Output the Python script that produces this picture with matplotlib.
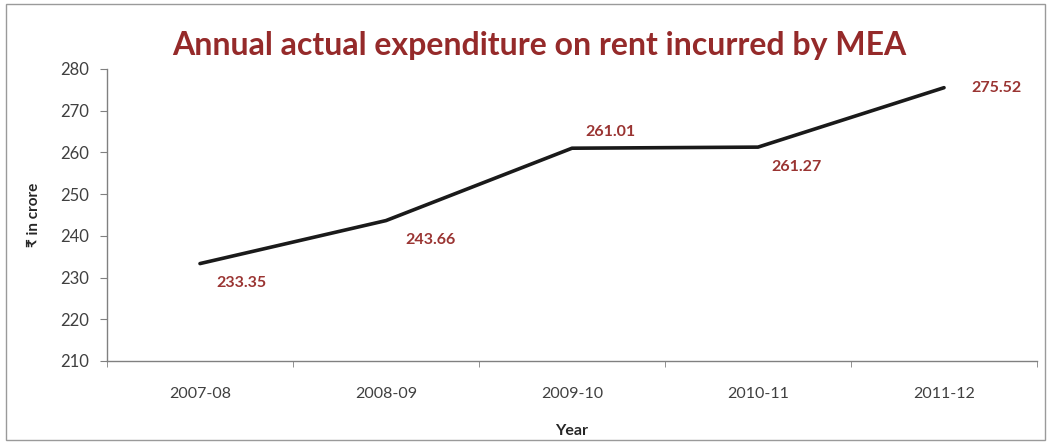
import matplotlib
matplotlib.use("Agg")
import matplotlib.pyplot as plt
from matplotlib.patches import Rectangle

years = ["2007-08", "2008-09", "2009-10", "2010-11", "2011-12"]
values = [233.35, 243.66, 261.01, 261.27, 275.52]
yticks = [210, 220, 230, 240, 250, 260, 270, 280]
# label offsets (points): relative to the point
offsets = [(30, -14), (32, -14), (28, 12), (28, -14), (38, 0)]

fam = ["Lato", "DejaVu Sans"]
plt.rcParams["font.family"] = fam

fig = plt.figure(figsize=(10.51, 4.44), dpi=100)
fig.patches.append(Rectangle((0.006, 0.008), 0.988, 0.984, transform=fig.transFigure,
                             fill=False, edgecolor="#9a9a9a", linewidth=1.0))
ax = fig.add_axes([0.1018, 0.187, 0.8849, 0.6576])

x = list(range(len(years)))
ax.plot(x, values, color="#1a1a1a", linewidth=2.6, solid_capstyle="round")
for xi, v, off in zip(x, values, offsets):
    ax.annotate(f"{v:.2f}", (xi, v), xytext=off, textcoords="offset points",
                ha="center", va="center", color="#9A3432", fontsize=11.5,
                fontweight="bold")

ax.set_xlim(-0.5, len(years) - 0.5)
ax.set_ylim(210, 280)
ax.set_yticks(yticks)
ax.set_xticks(x)
ax.set_xticklabels(years)
ax.set_xticks([i - 0.5 for i in range(len(years) + 1)], minor=True)
ax.tick_params(axis="x", which="major", length=0, pad=19, labelsize=11.5, colors="#404040")
ax.tick_params(axis="x", which="minor", length=4, color="#808080", direction="out")
ax.tick_params(axis="y", length=5, color="#808080", labelsize=12, labelcolor="#404040", pad=8)
for s in ["top", "right"]:
    ax.spines[s].set_visible(False)
for s in ["left", "bottom"]:
    ax.spines[s].set_color("#808080")
    ax.spines[s].set_linewidth(1.0)

ax.set_xlabel("Year", fontsize=11.5, fontweight="bold", color="#262626", labelpad=16)
ax.set_ylabel("₹ in crore", fontsize=11, fontweight="bold", color="#262626", labelpad=14,
              family=fam)
fig.text(0.513, 0.897, "Annual actual expenditure on rent incurred by MEA",
         ha="center", va="center", fontsize=23, fontweight="bold", color="#952A2A")

fig.savefig("out.png", dpi=100)
